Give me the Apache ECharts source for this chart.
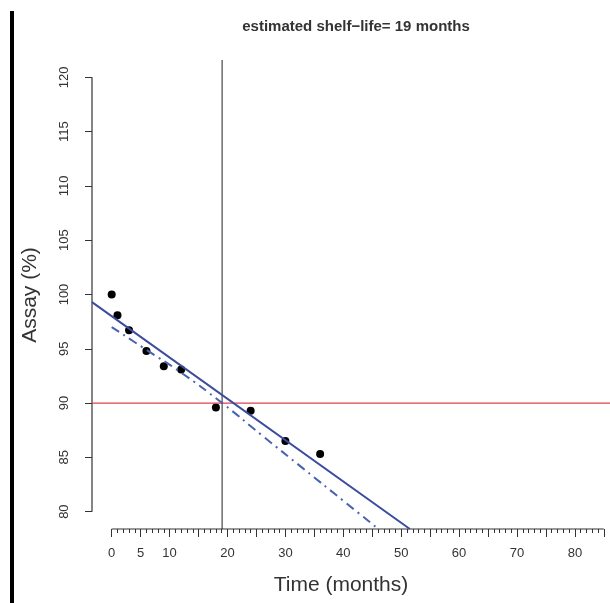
<!DOCTYPE html>
<html>
<head>
<meta charset="utf-8">
<title>shelf-life</title>
<script src="https://cdn.jsdelivr.net/npm/echarts@6/dist/echarts.min.js"></script>
<style>
  html, body { margin: 0; padding: 0; background: #fff; }
  #chart { width: 610px; height: 603px; }
</style>
</head>
<body>
<div id="chart"></div>
<script>
// stability data (months, assay %)
const timePoints = [0, 1, 3, 6, 9, 12, 18, 24, 30, 36];
const assayValues = [100.0, 98.1, 96.7, 94.8, 93.4, 93.1, 89.6, 89.3, 86.5, 85.3];

// regression line ends
const fitX = [-3.4, 51.5];
const fitY = [99.3, 78.4];

// lower one-sided confidence bound
const lowerX = [0, 6, 12, 19.07, 26, 33.1, 40, 46.05];
const lowerY = [97.0, 94.9, 92.8, 90.0, 87.0, 83.96, 81.0, 78.4];

const specLimit = 90;
const shelfLife = 19.07;

const yTicks = [80, 85, 90, 95, 100, 105, 110, 115, 120];
const xMajorTicks = [0, 5, 10, 15, 20, 25, 30, 35, 40, 45, 50, 55, 60, 65, 70, 75, 80, 85];
const xLabels = [0, 5, 10, 20, 30, 40, 50, 60, 70, 80];

const xMin = -3.4, xMax = 86.06;
const yMin = 78.4, yMax = 121.6;

let xMinorTicks = [];
for (let i = 0; i <= 85; i++) xMinorTicks.push(i);

const txt = "#333333";
const blue = "#3b4c9e";
const font = "Liberation Sans, Arial, sans-serif";

function zip(a, b) {
  return a.map(function(v, i) { return [v, b[i]]; });
}

const option = {
  animation: false,
  grid: { left: 92, right: 0, top: 60, bottom: 74 },
  xAxis: [
    {
      type: "value", min: xMin, max: xMax, position: "bottom",
      axisLine: { show: false, onZero: false },
      splitLine: { show: false },
      axisLabel: { show: false },
      axisTick: { show: true, length: 4, customValues: xMinorTicks, lineStyle: { color: txt, width: 1 } }
    },
    {
      type: "value", min: xMin, max: xMax, position: "bottom",
      axisLine: { show: false, onZero: false },
      splitLine: { show: false },
      axisTick: { show: true, length: 8, customValues: xMajorTicks, lineStyle: { color: txt, width: 1 } },
      axisLabel: {
        customValues: xLabels, margin: 18,
        color: txt, fontSize: 13, fontFamily: font
      }
    }
  ],
  yAxis: {
    type: "value", min: yMin, max: yMax,
    axisLine: { show: false, onZero: false },
    splitLine: { show: false },
    axisTick: { show: true, length: 7, customValues: yTicks, lineStyle: { color: txt, width: 1 } },
    axisLabel: {
      customValues: yTicks, rotate: 90, margin: 21,
      color: txt, fontSize: 13, fontFamily: font
    }
  },
  graphic: [
    { type: "rect", shape: { x: 10, y: 11, width: 4, height: 592 }, style: { fill: "#000" } },
    {
      type: "text", x: 356, y: 27,
      style: { text: "estimated shelf\u2212life= 19 months", fill: txt, font: "bold 15px " + font, textAlign: "center", textVerticalAlign: "middle" }
    },
    {
      type: "text", x: 341, y: 585,
      style: { text: "Time (months)", fill: txt, font: "21px " + font, textAlign: "center", textVerticalAlign: "middle" }
    },
    {
      type: "text", x: 30, y: 295, rotation: Math.PI / 2,
      style: { text: "Assay (%)", fill: txt, font: "21px " + font, textAlign: "center", textVerticalAlign: "middle" }
    }
  ],
  series: [
    {
      // y axis line, only over the tick span
      type: "line", clip: false, symbol: "none", silent: true,
      data: [[xMin, yTicks[0]], [xMin, yTicks[yTicks.length - 1]]],
      lineStyle: { color: txt, width: 1.2 }
    },
    {
      // x axis line
      type: "line", clip: false, symbol: "none", silent: true,
      data: [[xMajorTicks[0], yMin], [xMajorTicks[xMajorTicks.length - 1], yMin]],
      lineStyle: { color: txt, width: 1.2 }
    },
    {
      // spec limit
      type: "line", symbol: "none", silent: true,
      data: [[xMin, specLimit], [xMax, specLimit]],
      lineStyle: { color: "#e0404c", width: 1.2 }
    },
    {
      // shelf-life marker
      type: "line", symbol: "none", silent: true,
      data: [[shelfLife, yMin], [shelfLife, yMax]],
      lineStyle: { color: "#222222", width: 1 }
    },
    {
      type: "line", symbol: "none",
      data: zip(fitX, fitY),
      lineStyle: { color: blue, width: 2 }
    },
    {
      type: "line", symbol: "none", smooth: true,
      data: zip(lowerX, lowerY),
      lineStyle: { color: "#4a62b0", width: 2, type: [9, 5, 2, 5] }
    },
    {
      type: "scatter", symbol: "circle", symbolSize: 8,
      data: zip(timePoints, assayValues),
      itemStyle: { color: "#000000", opacity: 1 }
    }
  ]
};

const em = echarts.init(document.getElementById("chart"));
em.setOption(option);
</script>
</body>
</html>
